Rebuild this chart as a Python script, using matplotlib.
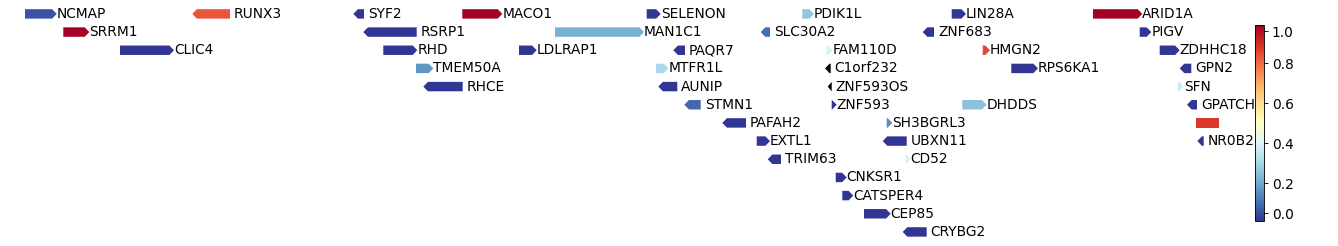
import numpy as np
import matplotlib
matplotlib.use("Agg")
import matplotlib.pyplot as plt
from matplotlib.patches import Polygon
from matplotlib.colors import Normalize
import matplotlib.cm as cm

# ---- data (positions in track units, row = stacking level) ----
genes = ["NCMAP", "RUNX3", "SYF2", "MACO1", "SELENON", "PDIK1L", "LIN28A", "ARID1A",
         "SRRM1", "RSRP1", "MAN1C1", "SLC30A2", "ZNF683", "PIGV",
         "CLIC4", "RHD", "LDLRAP1", "PAQR7", "FAM110D", "HMGN2", "ZDHHC18",
         "TMEM50A", "MTFR1L", "C1orf232", "RPS6KA1", "GPN2",
         "RHCE", "AUNIP", "ZNF593OS", "SFN",
         "STMN1", "ZNF593", "DHDDS", "GPATCH3",
         "PAFAH2", "SH3BGRL3", "",
         "EXTL1", "UBXN11", "NR0B2",
         "TRIM63", "CD52",
         "CNKSR1", "CATSPER4", "CEP85", "CRYBG2"]
starts = [25.0, 192.3, 353.3, 462.3, 646.7, 802.3, 951.7, 1093.0,
          63.3, 363.3, 555.0, 760.7, 922.7, 1139.7,
          120.0, 383.3, 519.0, 673.3, 826.7, 982.7, 1159.7,
          416.0, 656.0, 825.0, 1011.3, 1179.7,
          423.3, 658.3, 827.7, 1178.0,
          684.3, 831.7, 962.3, 1187.0,
          722.3, 886.7, 1196.3,
          756.7, 882.7, 1197.3,
          767.7, 905.7,
          835.7, 842.3, 864.0, 902.7]
ends = [56.7, 230.0, 364.0, 502.3, 660.7, 814.0, 966.0, 1142.3,
        89.3, 416.7, 644.0, 770.0, 934.0, 1151.3,
        174.0, 417.3, 536.7, 685.0, 832.7, 990.0, 1179.7,
        433.3, 668.3, 830.7, 1038.0, 1191.3,
        462.7, 677.3, 831.7, 1183.7,
        700.7, 836.7, 986.7, 1197.0,
        746.0, 892.3, 1218.7,
        770.0, 906.7, 1203.7,
        781.0, 910.7,
        846.7, 853.3, 890.7, 926.7]
strands = [1, -1, -1, 1, 1, 1, 1, 1,
           1, -1, 1, -1, -1, 1,
           1, 1, 1, -1, 1, 1, 1,
           1, 1, -1, 1, -1,
           -1, -1, -1, 1,
           -1, 1, 1, -1,
           -1, 1, 0,
           1, -1, -1,
           -1, 1,
           1, 1, 1, -1]
rows = [0, 0, 0, 0, 0, 0, 0, 0,
        1, 1, 1, 1, 1, 1,
        2, 2, 2, 2, 2, 2, 2,
        3, 3, 3, 3, 3,
        4, 4, 4, 4,
        5, 5, 5, 5,
        6, 6, 6,
        7, 7, 7,
        8, 8,
        9, 10, 11, 12]
values = [0.058, 0.832, 0.0, 1.0, 0.0, 0.261, 0.0, 1.0,
          1.0, 0.0, 0.217, 0.10, 0.0, 0.0,
          0.0, 0.0, 0.0, 0.0, 0.39, 0.85, 0.0,
          0.168, 0.305, np.nan, 0.0, 0.0,
          0.0, 0.0, np.nan, 0.37,
          0.09, 0.0, 0.256, 0.0,
          0.0, 0.155, 0.877,
          0.0, 0.0, 0.0,
          0.0, 0.39,
          0.0, 0.0, 0.0, 0.0]
cbar_ticks = [0.05, 0.2, 0.4, 0.6, 0.8, 0.96]
cbar_labels = ["0.0", "0.2", "0.4", "0.6", "0.8", "1.0"]

# ---- figure ----
DPI = 80
fig = plt.figure(figsize=(1338 / DPI, 246 / DPI), dpi=DPI)
ax = fig.add_axes([0, 0, 1, 1])
ax.set_xlim(0, 1338)
row_px = 18.17
top_px = 13.9
ax.set_ylim((246 - top_px) / row_px, -top_px / row_px)
ax.axis("off")

cmap = matplotlib.colormaps["RdYlBu_r"].with_extremes(bad="black")
norm = Normalize(vmin=0.0115, vmax=0.99)

h = 0.26
head = 4.6
for g, s, e, st, r, v in zip(genes, starts, ends, strands, rows, values):
    col = cmap(norm(v))
    L = e - s
    hl = min(head, L)
    if st == 1:
        pts = [(s, r - h), (e - hl, r - h), (e, r), (e - hl, r + h), (s, r + h)]
        tx = e
    elif st == -1:
        pts = [(e, r - h), (s + hl, r - h), (s, r), (s + hl, r + h), (e, r + h)]
        tx = e + 4.0
    else:
        pts = [(s, r - h), (e, r - h), (e, r + h), (s, r + h)]
        tx = e + 4.0
    ax.add_patch(Polygon(pts, closed=True, facecolor=col, edgecolor="none", lw=0))
    if g:
        ax.text(tx, r, g, ha="left", va="center", fontsize=12.4, color="black")

cax = fig.add_axes([1255 / 1338, (246 - 221) / 246, 9 / 1338, 196 / 246])
cb = fig.colorbar(cm.ScalarMappable(norm=norm, cmap=cmap), cax=cax)
cb.set_ticks(cbar_ticks)
cb.set_ticklabels(cbar_labels)
cax.tick_params(labelsize=12.4)

fig.savefig("out.png", dpi=DPI)
